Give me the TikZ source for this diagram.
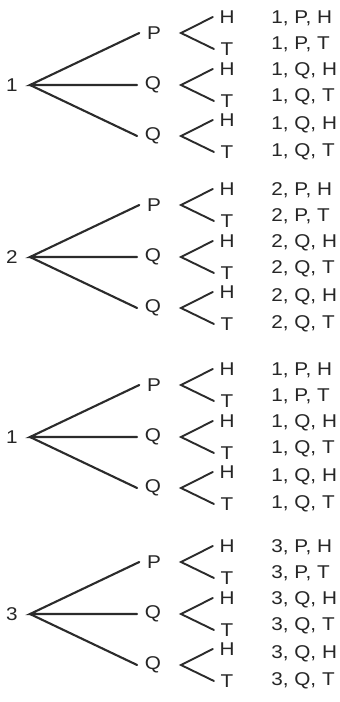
\documentclass[tikz,border=0pt]{standalone}
\usepackage{fontspec}
\setmainfont{Liberation Sans}
\definecolor{ink}{HTML}{2B2B2B}
\definecolor{txt}{HTML}{262626}
\tikzset{
  lbl/.style={font=\fontsize{18.5}{18.5}\selectfont, text=txt, inner sep=1pt, xscale=1.12, transform shape},
  mid/.style={lbl, outer sep=6pt},
  leaf/.style={lbl, outer sep=5pt},
  outc/.style={lbl, anchor=west},
  branch/.style={draw=ink, line width=2.1pt, line cap=round},
  fork/.style={draw=ink, line width=1.9pt, line cap=round, line join=miter}
}
\newcommand{\grp}[3]{% #1 id, #2 root y, #3 root label
  \node[lbl] (r#1) at (12,#2) {#3};
  \coordinate (v#1) at (30,#2);
  \node[mid] (p#1) at (154,#2-52) {P};
  \node[mid] (qa#1) at (153,#2) {Q};
  \node[mid] (qb#1) at (153,#2+51) {Q};
  \draw[branch] (p#1.west) -- (v#1) -- (qa#1.west);
  \draw[branch] (v#1) -- (qb#1.west);
  \foreach \n/\yy in {a/-52,b/0,c/51}{
    \coordinate (f#1\n) at (181,#2+\yy);
    \node[leaf] (h#1\n) at (227,#2+\yy-16) {H};
    \node[leaf] (t#1\n) at (227,#2+\yy+16) {T};
    \draw[fork] (h#1\n.west) -- (f#1\n) -- (t#1\n.west);
  }
  \node[outc] (o#1a) at (270,#2-67) {#3, P, H};
  \node[outc] (o#1b) at (270,#2-41) {#3, P, T};
  \node[outc] (o#1c) at (270,#2-14) {#3, Q, H};
  \node[outc] (o#1d) at (270,#2+12) {#3, Q, T};
  \node[outc] (o#1e) at (270,#2+40) {#3, Q, H};
  \node[outc] (o#1f) at (270,#2+67) {#3, Q, T};
}
\begin{document}
\begin{tikzpicture}[x=1pt,y=-1pt]
\useasboundingbox[fill=white] (0,0) rectangle (340,702);
\grp{1}{85}{1}
\grp{2}{257}{2}
\grp{3}{437}{1}
\grp{4}{614}{3}
\end{tikzpicture}
\end{document}
